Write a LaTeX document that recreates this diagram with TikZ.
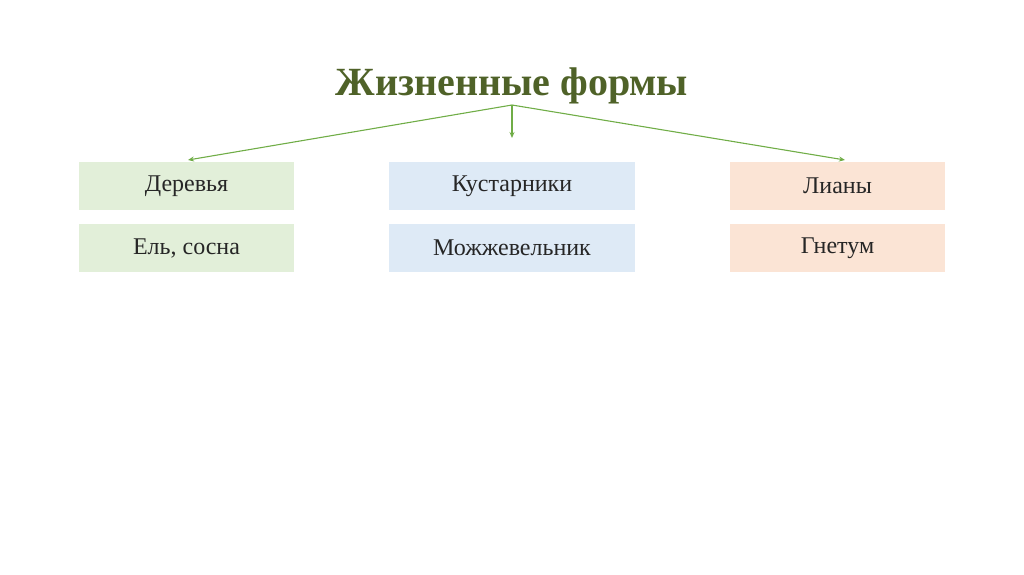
\documentclass[tikz,border=0pt]{standalone}
\usepackage{fontspec}
\usetikzlibrary{arrows.meta}
\setmainfont{Liberation Serif}
\begin{document}
\begin{tikzpicture}[x=1pt,y=-1pt,
  box/.style={draw=none,minimum width=#1,minimum height=48pt,inner sep=0pt,font=\fontsize{24}{26}\selectfont,text=black!85},
  arr/.style={draw={rgb,255:red,112;green,173;blue,71},line width=1.1pt,-{Stealth[length=6pt,width=5pt]}}]
\useasboundingbox (0,0) rectangle (1024,574);
\definecolor{tg}{RGB}{79,98,40}
\definecolor{gf}{RGB}{226,239,217}
\definecolor{bf}{RGB}{222,234,246}
\definecolor{of}{RGB}{251,228,213}
\node[font=\bfseries\fontsize{40}{44}\selectfont,text=tg] (t) at (512,86) {Жизненные формы};
\coordinate (s) at (512,105);
\node[box=215pt,fill=gf] (a1) at (186.5,186) {Деревья};
\node[box=215pt,fill=gf] (a2) at (186.5,248) {Ель, сосна};
\node[box=246pt,fill=bf] (b1) at (512,186) {Кустарники};
\node[box=246pt,fill=bf] (b2) at (512,248) {Можжевельник};
\node[box=215pt,fill=of] (c1) at (837.5,186) {Лианы};
\node[box=215pt,fill=of] (c2) at (837.5,248) {Гнетум};
\draw[arr] (s) -- (188,160);
\draw[arr] (s) -- (512,138);
\draw[arr] (s) -- (845,160);
\end{tikzpicture}
\end{document}
